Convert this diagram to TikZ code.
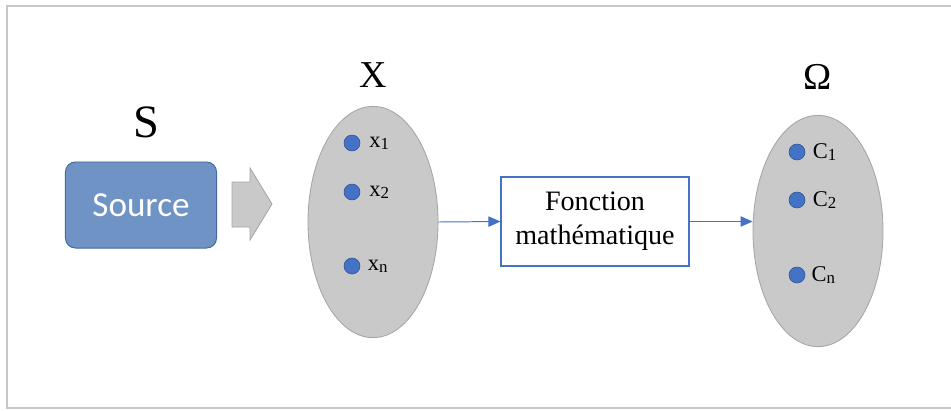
\documentclass[tikz,border=0pt]{standalone}
\usepackage{fontspec}
\setmainfont{Liberation Serif}
\newfontfamily\calibri{Carlito}
\usepackage{tikz}
\usetikzlibrary{shapes.geometric, arrows.meta, positioning}
\usepackage{xcolor}

\definecolor{setgray}{RGB}{201,201,201}
\definecolor{setborder}{RGB}{165,165,165}
\definecolor{dotblue}{RGB}{68,114,196}
\definecolor{dotborder}{RGB}{47,82,143}
\definecolor{srcfill}{RGB}{111,147,197}
\definecolor{srcborder}{RGB}{70,104,160}
\definecolor{framegray}{RGB}{200,200,200}

\newcommand{\idx}[1]{\raisebox{-1.5pt}{\fontsize{12}{14}\selectfont #1}}

\begin{document}
\begin{tikzpicture}[
    x=0.025cm, y=-0.025cm,
    title/.style={inner sep=0pt, font=\fontsize{27}{30}\selectfont},
    source/.style={draw=srcborder, fill=srcfill, rectangle, rounded corners=0.25cm,
                minimum width=3.775cm, minimum height=2.15cm, line width=0.7pt,
                text=white, font=\calibri\fontsize{25}{28}\selectfont},
    setbox/.style={draw=setborder, fill=setgray, ellipse, line width=0.6pt,
                minimum width=3.25cm, minimum height=5.78cm, inner sep=0pt},
    elem/.style={draw=dotborder, fill=dotblue, circle, minimum size=0.4cm,
                inner sep=0pt, line width=0.4pt},
    elemlabel/.style={inner sep=0pt, font=\fontsize{16}{18}\selectfont},
    func/.style={draw=dotblue, fill=white, rectangle, line width=0.8pt,
                minimum width=4.7cm, minimum height=2.225cm, align=center,
                font=\fontsize{20}{24}\selectfont},
    arrow/.style={-{Triangle[length=0.3cm, width=0.26cm]}, draw=dotblue, line width=0.7pt}
]
\useasboundingbox (0,0) rectangle (951,410);

%% ---- frame ----
\draw [framegray, line width=1pt] (951,6) -- (7,6) -- (7,408) -- (951,408);

%% ---- source ----
\node [title, font=\fontsize{33}{36}\selectfont] (slabel) at (146,122) {S};
\node [source] (source) at (141,205) {Source};
\draw [draw=setborder, fill=setgray, line width=0.6pt]
    (232,182) -- (250,182) -- (250,168) -- (272,204) -- (250,240) -- (250,227) -- (232,227) -- cycle;

%% ---- set X ----
\node [title] (xlabel) at (373,75) {X};
\node [setbox] (setx) at (373,222) {};
\node [elem] (x1) at (352,143) {};
\node [elem] (x2) at (352,192) {};
\node [elem] (xn) at (352,266) {};
\node [elemlabel, right=0.22cm of x1] (x1label) {x\idx{1}};
\node [elemlabel, right=0.22cm of x2] (x2label) {x\idx{2}};
\node [elemlabel, right=0.18cm of xn] (xnlabel) {x\idx{n}};

%% ---- function ----
\node [func] (func) at (595,221.5) {Fonction\\mathématique};

%% ---- set Omega ----
\node [title] (olabel) at (818,77) {Ω};
\node [setbox] (seto) at (818,231) {};
\node [elem] (c1) at (797,152) {};
\node [elem] (c2) at (797,200) {};
\node [elem] (cn) at (797,275) {};
\node [elemlabel, right=0.18cm of c1] (c1label) {C\idx{1}};
\node [elemlabel, right=0.18cm of c2] (c2label) {C\idx{2}};
\node [elemlabel, right=0.15cm of cn] (cnlabel) {C\idx{n}};

%% ---- arrows ----
\draw [arrow] (setx.east) -- (func.west);
\draw [arrow] (func.east) -- (func.east -| seto.west);

\end{tikzpicture}
\end{document}
